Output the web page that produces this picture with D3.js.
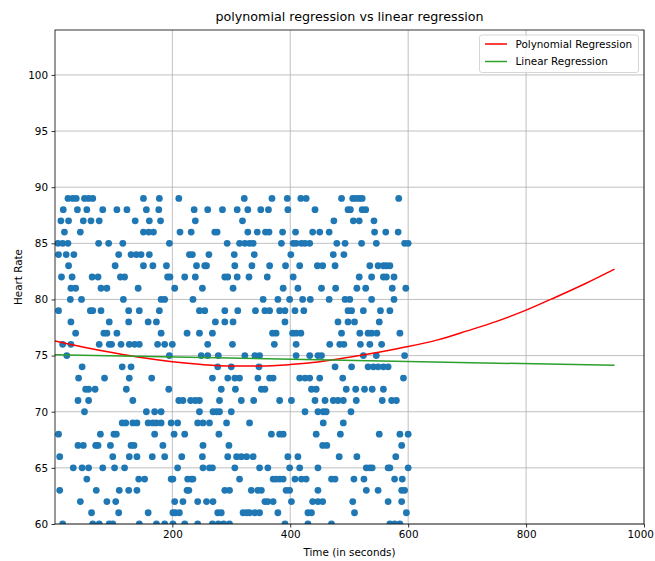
<!DOCTYPE html>
<html>
<head>
<meta charset="utf-8">
<script src="https://cdn.jsdelivr.net/npm/d3@7"></script>
<style>
  html, body { margin: 0; padding: 0; background: #fff; }
  svg { display: block; }
  text { font-family: "DejaVu Sans", sans-serif; fill: #000; }
</style>
</head>
<body>
<svg id="chart" width="655" height="561"></svg>
<script>
// ---------- data (time in seconds for each observed heart rate) ----------
const t89 = [23, 31, 37, 51, 58, 65, 151, 178, 211, 322, 369, 395, 418, 427, 487, 506, 511, 517, 522, 584];
const t88 = [15, 39, 55, 82, 106, 123, 156, 177, 237, 260, 285, 310, 328, 350, 363, 396, 442, 498, 502, 522, 528];
const t87 = [11, 24, 49, 62, 76, 137, 161, 180, 239, 319, 474, 507, 517, 542];
const t86 = [17, 44, 151, 160, 168, 213, 232, 272, 276, 328, 344, 358, 364, 387, 409, 438, 450, 466, 543, 562, 583];
const t85 = [6, 14, 23, 75, 92, 116, 195, 293, 314, 323, 331, 337, 385, 405, 410, 419, 425, 433, 479, 493, 521, 546, 594, 600];
const t84 = [7, 20, 33, 109, 130, 139, 147, 161, 229, 234, 262, 305, 339, 401, 473, 491];
const t83 = [24, 103, 151, 167, 190, 241, 255, 258, 306, 335, 365, 392, 416, 446, 455, 476, 535, 549, 558, 563, 569];
const t82 = [12, 30, 64, 74, 112, 119, 192, 196, 221, 239, 289, 294, 310, 330, 361, 405, 517, 538, 558, 563, 576];
const t81 = [28, 36, 79, 89, 142, 204, 251, 303, 388, 413, 453, 477, 513, 528, 573, 596];
const t80 = [27, 46, 117, 181, 187, 235, 354, 379, 399, 421, 434, 466, 493, 501, 538, 576];
const t79 = [7, 61, 65, 79, 126, 144, 178, 246, 255, 289, 311, 341, 357, 365, 382, 391, 408, 423, 498, 504, 524, 553, 569];
const t78 = [28, 93, 126, 159, 173, 273, 289, 303, 391, 481, 498, 509, 551];
const t77 = [36, 84, 89, 106, 181, 225, 246, 268, 370, 376, 404, 410, 418, 487, 518, 532, 538, 547, 586];
const t76 = [14, 28, 76, 93, 97, 113, 127, 136, 144, 175, 187, 200, 260, 302, 373, 410, 467, 484, 491, 519, 535, 555];
const t75 = [21, 195, 249, 260, 278, 323, 340, 348, 410, 433, 447, 453, 524, 546, 594];
const t74 = [47, 115, 130, 277, 300, 347, 476, 504, 532, 541, 549, 558, 566];
const t73 = [41, 85, 127, 165, 268, 294, 306, 314, 345, 365, 371, 416, 425, 433, 450, 489, 592];
const t72 = [53, 58, 69, 122, 194, 283, 307, 351, 357, 436, 444, 495, 511, 526, 539, 558];
const t71 = [40, 58, 133, 211, 218, 231, 239, 246, 280, 317, 338, 382, 402, 442, 459, 473, 481, 490, 512, 556, 572, 580];
const t70 = [51, 156, 170, 181, 246, 269, 275, 280, 300, 425, 447, 456, 461, 503];
const t69 = [115, 121, 133, 140, 159, 167, 173, 181, 198, 209, 243, 252, 263, 292, 331, 456, 490];
const t68 = [7, 78, 101, 105, 170, 203, 221, 279, 368, 382, 388, 444, 485, 551, 586, 600];
const t67 = [40, 49, 70, 74, 95, 130, 135, 184, 252, 296, 455, 462, 589];
const t66 = [9, 99, 127, 140, 166, 187, 216, 251, 294, 309, 317, 326, 337, 396, 413, 483, 513, 579];
const t65 = [32, 47, 58, 82, 102, 119, 209, 252, 263, 268, 306, 348, 362, 399, 416, 447, 529, 535, 539, 566, 569, 600];
const t64 = [55, 143, 153, 198, 201, 226, 232, 235, 314, 371, 376, 382, 388, 408, 419, 427, 470, 476, 508, 525, 577, 590];
const t63 = [9, 71, 110, 126, 140, 225, 228, 289, 297, 334, 345, 351, 393, 399, 447, 529, 549, 589, 594];
const t62 = [44, 89, 104, 204, 218, 243, 258, 269, 357, 362, 371, 402, 438, 447, 455, 506, 566, 589];
const t61 = [63, 109, 159, 201, 205, 212, 277, 283, 320, 326, 331, 340, 348, 379, 430, 436, 509, 597];
const t60 = [14, 65, 76, 93, 99, 144, 173, 187, 201, 221, 243, 268, 278, 287, 297, 391, 430, 470, 569, 577, 586];

const heartRates = [60, 61, 62, 63, 64, 65, 66, 67, 68, 69, 70, 71, 72, 73, 74, 75, 76, 77, 78, 79, 80, 81, 82, 83, 84, 85, 86, 87, 88, 89];
const timesByRate = [t60, t61, t62, t63, t64, t65, t66, t67, t68, t69, t70, t71, t72, t73, t74, t75, t76, t77, t78, t79, t80, t81, t82, t83, t84, t85, t86, t87, t88, t89];

// regression curves
const polyTime = [1, 50, 100, 150, 200, 250, 300, 350, 400, 450, 500, 550, 600, 650, 700, 750, 800, 850, 900, 950];
const polyHR   = [76.3, 75.75, 75.25, 74.8, 74.45, 74.2, 74.07, 74.07, 74.2, 74.45, 74.85, 75.3, 75.8, 76.4, 77.2, 78.05, 79.05, 80.2, 81.4, 82.7];
const linTime = [1, 950];
const linHR   = [75.07, 74.13];

const xTicks = [200, 400, 600, 800, 1000];
const yTicks = [60, 65, 70, 75, 80, 85, 90, 95, 100];
const xDomain = [1, 1000];
const yDomain = [60, 104];

const titleText = "polynomial regression vs linear regression";
const xLabel = "Time (in seconds)";
const yLabel = "Heart Rate";
const legendLabels = ["Polynomial Regression", "Linear Regression"];
const legendColors = ["#ff0000", "#2ca02c"];

// ---------- layout ----------
const W = 655, H = 561;
const M = { left: 55, right: 11, top: 30, bottom: 37 };
const x0 = M.left, x1 = W - M.right, y0 = M.top, y1 = H - M.bottom;
const FS = 10.4;

const svg = d3.select("#chart");
const x = d3.scaleLinear().domain(xDomain).range([x0, x1]);
const y = d3.scaleLinear().domain(yDomain).range([y1, y0]);

// grid
const grid = svg.append("g").attr("stroke", "#b0b0b0").attr("stroke-width", 0.8);
grid.selectAll(".gx").data(xTicks).join("line")
  .attr("x1", d => x(d)).attr("x2", d => x(d)).attr("y1", y0).attr("y2", y1);
grid.selectAll(".gy").data(yTicks).join("line")
  .attr("y1", d => y(d)).attr("y2", d => y(d)).attr("x1", x0).attr("x2", x1);

// clip
svg.append("clipPath").attr("id", "clip").append("rect")
  .attr("x", x0).attr("y", y0).attr("width", x1 - x0).attr("height", y1 - y0);

// scatter
const pts = [];
heartRates.forEach((hr, i) => timesByRate[i].forEach(t => pts.push({ t, hr })));
svg.append("g").attr("clip-path", "url(#clip)")
  .selectAll("circle").data(pts).join("circle")
  .attr("cx", d => x(d.t)).attr("cy", d => y(d.hr)).attr("r", 3.4)
  .attr("fill", "#1f77b4");

// lines
const polyData = polyTime.map((t, i) => [t, polyHR[i]]);
const linData = linTime.map((t, i) => [t, linHR[i]]);
const lineGen = d3.line().x(d => x(d[0])).y(d => y(d[1])).curve(d3.curveMonotoneX);
svg.append("path").datum(polyData).attr("d", lineGen)
  .attr("fill", "none").attr("stroke", legendColors[0]).attr("stroke-width", 1.5);
svg.append("path").datum(linData).attr("d", lineGen)
  .attr("fill", "none").attr("stroke", legendColors[1]).attr("stroke-width", 1.5);

// axes
const xAxis = d3.axisBottom(x).tickValues(xTicks).tickFormat(d3.format("d")).tickSize(3.5).tickPadding(3.5);
const yAxis = d3.axisLeft(y).tickValues(yTicks).tickFormat(d3.format("d")).tickSize(3.5).tickPadding(3.5);
const gx = svg.append("g").attr("transform", `translate(0,${y1})`).call(xAxis);
const gy = svg.append("g").attr("transform", `translate(${x0},0)`).call(yAxis);
[gx, gy].forEach(g => {
  g.select(".domain").remove();
  g.selectAll(".tick line").attr("stroke", "#000").attr("stroke-width", 0.8);
  g.selectAll(".tick text").attr("fill", "#000").style("font-family", "DejaVu Sans").style("font-size", FS + "px");
});
// keep the last x label inside the picture like the reference
gx.selectAll(".tick text").filter(d => d === 1000).attr("text-anchor", "end").attr("dx", "0.9em");

// frame
svg.append("rect").attr("x", x0).attr("y", y0).attr("width", x1 - x0).attr("height", y1 - y0)
  .attr("fill", "none").attr("stroke", "#000").attr("stroke-width", 0.8);

// title and labels
svg.append("text").attr("x", (x0 + x1) / 2).attr("y", 21).attr("text-anchor", "middle")
  .style("font-size", "12.7px").text(titleText);
svg.append("text").attr("x", (x0 + x1) / 2).attr("y", 556).attr("text-anchor", "middle")
  .style("font-size", FS + "px").text(xLabel);
svg.append("text").attr("transform", `translate(22,${(y0 + y1) / 2}) rotate(-90)`).attr("text-anchor", "middle")
  .style("font-size", FS + "px").text(yLabel);

// legend
const lg = svg.append("g");
lg.append("rect").attr("x", 479.5).attr("y", 35).attr("width", 159).attr("height", 37.5)
  .attr("rx", 2.5).attr("fill", "#fff").attr("fill-opacity", 0.8)
  .attr("stroke", "#cccccc").attr("stroke-width", 0.8);
legendLabels.forEach((lab, i) => {
  const yy = 44 + i * 17.5;
  lg.append("line").attr("x1", 485).attr("x2", 507).attr("y1", yy).attr("y2", yy)
    .attr("stroke", legendColors[i]).attr("stroke-width", 1.5);
  lg.append("text").attr("x", 515.5).attr("y", yy + 3.7).style("font-size", FS + "px").text(lab);
});
</script>
</body>
</html>
